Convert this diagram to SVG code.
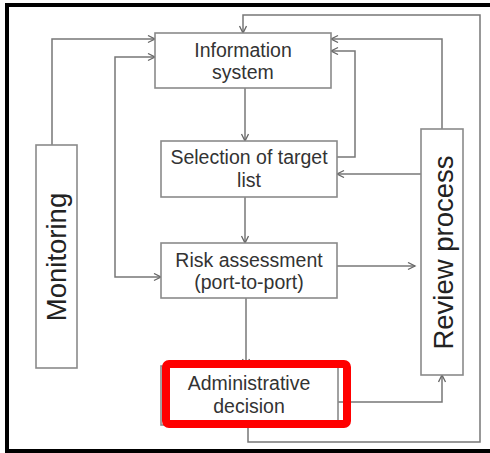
<svg xmlns="http://www.w3.org/2000/svg" width="490" height="453" viewBox="0 0 490 453">
<defs>
<marker id="arr" markerUnits="userSpaceOnUse" markerWidth="10" markerHeight="10" refX="8" refY="4" orient="auto-start-reverse">
<path d="M1,0.5 L8,4 L1,7.5" fill="none" stroke="#666" stroke-width="1.3"/>
</marker>
<style>
.box{fill:#fff;stroke:#8a8a8a;stroke-width:1.6}
.t{font-family:"Liberation Sans",Arial,sans-serif;font-size:19.5px;fill:#333;text-anchor:middle}
.big{font-family:"Liberation Sans",Arial,sans-serif;font-size:27.5px;fill:#222;text-anchor:middle}
.c{fill:none;stroke:#777;stroke-width:1.5}
.ca{fill:none;stroke:#777;stroke-width:1.5;marker-end:url(#arr)}
</style>
</defs>
<rect width="490" height="453" fill="#fff"/>
<rect x="7" y="5" width="500" height="446" fill="none" stroke="#000" stroke-width="4"/>
<g id="connectors">
<path class="ca" d="M52,145 V39 H155"/>
<path class="ca" d="M155,57 H115 V277 H161" marker-start="url(#arr)"/>
<path class="ca" d="M245,88 V141"/>
<path class="ca" d="M245,197 V243"/>
<path class="ca" d="M337,157 H355 V51 H331"/>
<path class="ca" d="M442,129 V39 H331"/>
<path class="ca" d="M421,174 H337"/>
<path class="ca" d="M337,266 H415"/>
<path class="ca" d="M338,402 H442 V375"/>
<path class="ca" d="M246,298 V366"/>
<path class="ca" d="M248,425 V442 H480 V15 H243 V33"/>
</g>
<g id="information-system">
<rect class="box" x="155" y="33" width="176" height="55"/>
<text class="t" x="243" y="57">Information</text>
<text class="t" x="243" y="79">system</text>
</g>
<g id="selection">
<rect class="box" x="161" y="141" width="176" height="56"/>
<text class="t" x="249" y="164">Selection of target</text>
<text class="t" x="249" y="187">list</text>
</g>
<g id="risk-assessment">
<rect class="box" x="161" y="243" width="176" height="55"/>
<text class="t" x="249" y="267">Risk assessment</text>
<text class="t" x="249" y="289">(port-to-port)</text>
</g>
<g id="administrative-decision">
<rect class="box" x="161" y="366" width="177" height="59"/>
<text class="t" x="249" y="390">Administrative</text>
<text class="t" x="249" y="413">decision</text>
<rect x="166" y="364" width="181" height="60" rx="3" fill="none" stroke="#f00" stroke-width="8"/>
</g>
<g id="monitoring">
<rect class="box" x="36" y="145" width="41" height="223"/>
<text class="big" transform="translate(66,257) rotate(-90)">Monitoring</text>
</g>
<g id="review-process">
<rect class="box" x="421" y="129" width="42" height="246"/>
<text class="big" transform="translate(452.5,252.5) rotate(-90)">Review process</text>
</g>
</svg>
